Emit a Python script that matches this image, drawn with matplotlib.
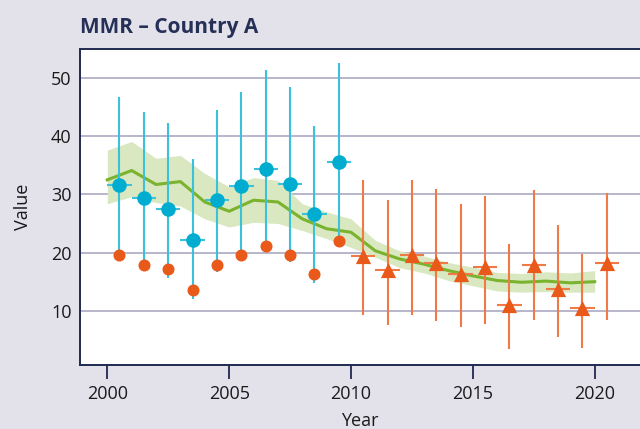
import numpy as np
import matplotlib
matplotlib.use("Agg")
import matplotlib.pyplot as plt

plt.rcParams['font.family'] = ['Open Sans', 'DejaVu Sans']

# ----- Data -----
# survey estimates (blue) with intervals and matching orange points
survey_years = [2000.5, 2001.5, 2002.5, 2003.5, 2004.5, 2005.5, 2006.5, 2007.5, 2008.5, 2009.5]
survey_vals = [31.7, 29.3, 27.5, 22.2, 29.1, 31.5, 34.3, 31.8, 26.7, 35.5]
survey_hi = [46.8, 44.1, 42.2, 36.0, 44.5, 47.6, 51.3, 48.4, 41.8, 52.5]
survey_lo = [19.5, 17.8, 15.7, 12.0, 16.7, 18.6, 20.9, 18.3, 14.7, 22.0]
adj_vals = [19.5, 17.9, 17.1, 13.6, 17.9, 19.5, 21.1, 19.6, 16.4, 22.0]

# registry estimates (orange triangles)
reg_years = [2010.5, 2011.5, 2012.5, 2013.5, 2014.5, 2015.5, 2016.5, 2017.5, 2018.5, 2019.5, 2020.5]
reg_vals = [19.4, 17.0, 19.5, 18.2, 16.4, 17.6, 11.0, 17.9, 13.7, 10.4, 18.2]
reg_hi = [32.4, 29.0, 32.4, 31.0, 28.3, 29.8, 21.5, 30.7, 24.8, 19.7, 30.2]
reg_lo = [9.3, 7.6, 9.3, 8.2, 7.2, 7.8, 3.4, 8.4, 5.5, 3.6, 8.4]

# model fit (green) with uncertainty band
fit_years = list(range(2000, 2021))
fit_vals = [32.5, 34.1, 31.7, 32.2, 28.7, 27.1, 29.0, 28.7, 25.8, 24.1, 23.5,
            20.3, 18.9, 18.0, 16.9, 16.0, 15.2, 14.9, 15.1, 14.8, 15.0]
fit_hi = [37.6, 39.1, 36.2, 36.7, 33.6, 31.3, 32.9, 32.4, 28.4, 27.0, 25.8,
          22.1, 20.3, 19.4, 18.3, 17.5, 16.6, 16.4, 16.7, 16.5, 16.9]
fit_lo = [28.4, 29.6, 28.6, 28.0, 25.8, 24.4, 25.2, 25.0, 23.8, 22.4, 20.9,
          19.2, 17.4, 16.5, 15.2, 14.3, 13.4, 13.2, 13.3, 13.2, 13.2]

# ----- Colours -----
bg = '#e3e2eb'
navy = '#1f2a50'
blue = '#00add0'
blue_bar = '#3bc2da'
orange = '#e8591a'
orange_bar = '#f07a45'
green = '#7ab32e'
green_band = '#d9e8c1'
grid_col = '#b2b0c6'

fig = plt.figure(figsize=(6.4, 4.29), dpi=100, facecolor=bg)
ax = fig.add_axes([0.125, 0.149, 0.875, 0.737])
ax.set_facecolor('white')

# band + fit line
ax.fill_between(fit_years, fit_lo, fit_hi, color=green_band, lw=0, zorder=1)
ax.plot(fit_years, fit_vals, color=green, lw=2.2, zorder=2)

# survey estimates
sv = np.array(survey_vals)
ax.errorbar(survey_years, sv,
            yerr=[sv - np.array(survey_lo), np.array(survey_hi) - sv],
            xerr=0.5, fmt='none', ecolor=blue_bar, elinewidth=1.5, zorder=3)
ax.scatter(survey_years, adj_vals, s=75, color=orange, zorder=4, lw=0)
ax.scatter(survey_years, survey_vals, s=110, color=blue, zorder=5, lw=0)

# registry estimates
rv = np.array(reg_vals)
ax.errorbar(reg_years, rv,
            yerr=[rv - np.array(reg_lo), np.array(reg_hi) - rv],
            xerr=0.5, fmt='none', ecolor=orange_bar, elinewidth=1.5, zorder=3)
ax.scatter(reg_years, reg_vals, s=120, marker='^', color=orange, zorder=5, lw=0)

# ----- Axes styling -----
ax.set_xlim(1998.88, 2021.86)
ax.set_ylim(0.67, 55)
ax.set_xticks([2000, 2005, 2010, 2015, 2020])
ax.set_yticks([10, 20, 30, 40, 50])
ax.yaxis.grid(True, color=grid_col, lw=1.3)
ax.set_axisbelow(True)
ax.tick_params(axis='x', length=10, width=1.3, color=navy, labelsize=13,
               labelcolor='#1a1a1a', pad=4)
ax.tick_params(axis='y', length=0, labelsize=13, labelcolor='#1a1a1a', pad=6)
for side in ['left', 'bottom', 'top']:
    ax.spines[side].set_color(navy)
    ax.spines[side].set_linewidth(1.4)
ax.spines['right'].set_visible(False)

ax.set_xlabel('Year', fontsize=13, color='#1a1a1a', labelpad=7)
ax.set_ylabel('Value', fontsize=13, color='#1a1a1a', labelpad=14)

fig.text(0.125, 0.937, 'MMR – Country A', fontsize=15, fontweight='bold',
         color='#263056', ha='left', va='center')

fig.savefig('out.png', dpi=100, facecolor=bg)
